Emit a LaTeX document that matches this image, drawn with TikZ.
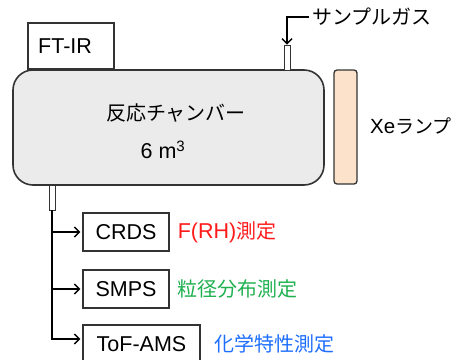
\documentclass[tikz,border=0pt]{standalone}
\usepackage{fontspec}
\setmainfont{Liberation Sans}
\newfontfamily\jp{Noto Sans CJK JP}
\usetikzlibrary{positioning,arrows.meta}

\definecolor{chambergray}{HTML}{EBEBEB}
\definecolor{lampcolor}{HTML}{FDE2CB}
\definecolor{edgegray}{HTML}{333333}
\definecolor{rhred}{HTML}{FF1A1A}
\definecolor{sizegreen}{HTML}{1FB050}
\definecolor{chemblue}{HTML}{1F6FFF}

\tikzset{
  box/.style={draw=edgegray, line width=1.3pt, fill=white, inner sep=0pt},
  tube/.style={draw=edgegray, line width=0.8pt, fill=white, inner sep=0pt, minimum width=6pt},
  flow/.style={line width=1.4pt, -{Straight Barb[length=5pt,width=10pt,line width=1.4pt]}},
  txt/.style={font=\fontsize{21.5}{24}\selectfont, inner sep=0pt},
  jtxt/.style={font=\fontsize{20}{24}\selectfont\jp, inner sep=0pt},
}

\begin{document}
\begin{tikzpicture}[x=1pt, y=-1pt]
\useasboundingbox (0,0) rectangle (454,359);

% chamber and lamp
\node[box, line width=1.6pt, fill=chambergray, rounded corners=20pt,
      minimum width=311pt, minimum height=115pt] (chamber) at (168.5,127.5) {};
\node[box, fill=lampcolor, rounded corners=3pt,
      minimum width=23pt, minimum height=114pt] (lamp) at (345.5,127) {};

\node[jtxt] (chambername) at (176,113) {反応チャンバー};
\node[txt] (volume) at (163,150) {6 m\textsuperscript{3}};
\node[txt, anchor=west, font=\fontsize{20.5}{24}\selectfont] (lampname) at (370,126)
  {Xe{\jp\fontsize{19}{24}\selectfont ランプ}};

% FT-IR on top of the chamber
\node[box, minimum width=86pt, minimum height=46pt] (ftir) at (71,46) {};
\node[txt, anchor=west] (ftirtext) at (38,46) {FT-IR};

% gas inlet
\node[tube, minimum height=25pt] (inlet) at (287,57.5) {};
\node[jtxt, anchor=west, inner xsep=3pt] (gas) at (309,17) {サンプルガス};
\draw[flow] (gas.west) -| (inlet.north);

% sampling outlet and instruments
\node[tube, minimum height=25pt] (outlet) at (52,197.5) {};

\node[box, txt, minimum width=86pt, minimum height=38pt] (crds) at (126,232) {CRDS};
\node[box, txt, minimum width=86pt, minimum height=38pt] (smps) at (126,289) {SMPS};
\node[box, txt, minimum width=117pt, minimum height=38pt] (tof) at (141.5,344) {ToF-AMS};

\draw[flow, shorten >=2pt] (outlet.south) |- (crds.west);
\draw[flow, shorten >=2pt] (outlet.south) |- (smps.west);
\draw[flow, shorten >=2pt] (outlet.south) |- ([yshift=5pt]tof.west);

\node[txt, text=rhred, anchor=west, right=8pt of crds] (rh) {F(RH){\jp\fontsize{20}{24}\selectfont 測定}};
\node[jtxt, text=sizegreen, anchor=west, right=8pt of smps] (size) {粒径分布測定};
\node[jtxt, text=chemblue, anchor=west, right=14pt of tof] (chem) {化学特性測定};
\end{tikzpicture}
\end{document}
